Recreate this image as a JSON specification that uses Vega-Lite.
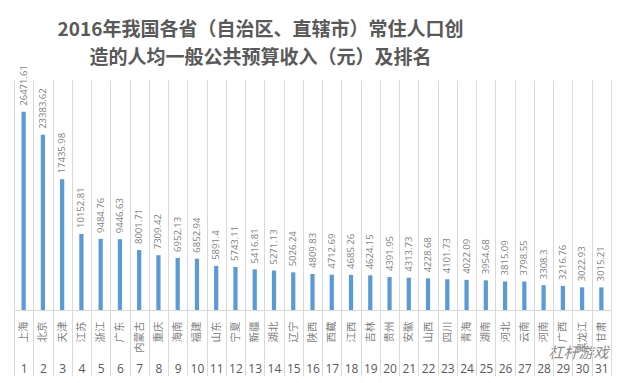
{
  "$schema": "https://vega.github.io/schema/vega-lite/v6.json",
  "width": 597,
  "height": 230,
  "autosize": {"type": "none"},
  "padding": {"left": 14, "top": 80, "right": 16, "bottom": 73},
  "background": "white",
  "title": {
    "text": ["2016年我国各省（自治区、直辖市）常住人口创", "造的人均一般公共预算收入（元）及排名"],
    "font": "Noto Sans CJK SC",
    "fontSize": 19,
    "fontWeight": "bold",
    "color": "#595959",
    "lineHeight": 28,
    "anchor": "middle",
    "dx": -52,
    "dy": 17,
    "offset": 14
  },
  "data": {
    "values": [
      {"rank": 1, "province": "上海", "value": 26471.61},
      {"rank": 2, "province": "北京", "value": 23383.62},
      {"rank": 3, "province": "天津", "value": 17435.98},
      {"rank": 4, "province": "江苏", "value": 10152.81},
      {"rank": 5, "province": "浙江", "value": 9484.76},
      {"rank": 6, "province": "广东", "value": 9446.63},
      {"rank": 7, "province": "内蒙古", "value": 8001.71},
      {"rank": 8, "province": "重庆", "value": 7309.42},
      {"rank": 9, "province": "海南", "value": 6952.13},
      {"rank": 10, "province": "福建", "value": 6852.94},
      {"rank": 11, "province": "山东", "value": 5891.4},
      {"rank": 12, "province": "宁夏", "value": 5743.11},
      {"rank": 13, "province": "新疆", "value": 5416.81},
      {"rank": 14, "province": "湖北", "value": 5271.13},
      {"rank": 15, "province": "辽宁", "value": 5026.24},
      {"rank": 16, "province": "陕西", "value": 4809.83},
      {"rank": 17, "province": "西藏", "value": 4712.69},
      {"rank": 18, "province": "江西", "value": 4685.26},
      {"rank": 19, "province": "吉林", "value": 4624.15},
      {"rank": 20, "province": "贵州", "value": 4391.95},
      {"rank": 21, "province": "安徽", "value": 4313.73},
      {"rank": 22, "province": "山西", "value": 4228.68},
      {"rank": 23, "province": "四川", "value": 4101.73},
      {"rank": 24, "province": "青海", "value": 4022.09},
      {"rank": 25, "province": "湖南", "value": 3954.68},
      {"rank": 26, "province": "河北", "value": 3815.09},
      {"rank": 27, "province": "云南", "value": 3798.55},
      {"rank": 28, "province": "河南", "value": 3308.3},
      {"rank": 29, "province": "广西", "value": 3216.76},
      {"rank": 30, "province": "黑龙江", "value": 3022.93},
      {"rank": 31, "province": "甘肃", "value": 3015.21}
    ]
  },
  "layer": [
    {
      "mark": {"type": "bar", "color": "#5B9BD5", "width": {"band": 0.22}},
      "encoding": {
        "x": {
          "field": "province",
          "type": "nominal",
          "sort": null,
          "scale": {"paddingInner": 0, "paddingOuter": 0},
          "axis": {
            "orient": "bottom",
            "title": "杠杆游戏",
            "titleFont": "Noto Sans CJK SC",
            "titleFontSize": 15,
            "titleFontStyle": "italic",
            "titleFontWeight": "normal",
            "titleColor": "#8c8c8c",
            "titleX": 594,
            "titleY": 42,
            "titleAlign": "right",
            "titleBaseline": "middle",
            "labelAngle": 270,
            "labelAlign": "right",
            "labelBaseline": "middle",
            "labelFont": "Noto Sans CJK SC",
            "labelFontSize": 10.5,
            "labelColor": "#7f7f7f",
            "labelPadding": 11,
            "ticks": false,
            "domain": true,
            "domainColor": "#d9d9d9",
            "grid": true,
            "gridColor": "#d9d9d9",
            "tickBand": "extent"
          }
        },
        "y": {"field": "value", "type": "quantitative", "scale": {"domain": [0, 30700]}, "axis": null}
      }
    },
    {
      "mark": {"type": "text", "angle": 270, "align": "left", "baseline": "middle", "dx": 6, "font": "Open Sans", "fontSize": 9.5, "color": "#7f7f7f"},
      "encoding": {
        "x": {
          "field": "rank",
          "type": "ordinal",
          "sort": null,
          "scale": {"paddingInner": 0, "paddingOuter": 0},
          "axis": {
            "orient": "bottom",
            "title": null,
            "labelAngle": 0,
            "labelFont": "Open Sans",
            "labelFontSize": 12,
            "labelColor": "#595959",
            "ticks": true,
            "tickSize": 66,
            "tickColor": "#d9d9d9",
            "tickBand": "extent",
            "domain": false,
            "grid": false,
            "labelPadding": -13
          }
        },
        "y": {"field": "value", "type": "quantitative", "scale": {"domain": [0, 30700]}, "axis": null},
        "text": {"field": "value", "type": "nominal"}
      }
    }
  ],
  "resolve": {"scale": {"x": "independent"}},
  "config": {"view": {"stroke": null}}
}
